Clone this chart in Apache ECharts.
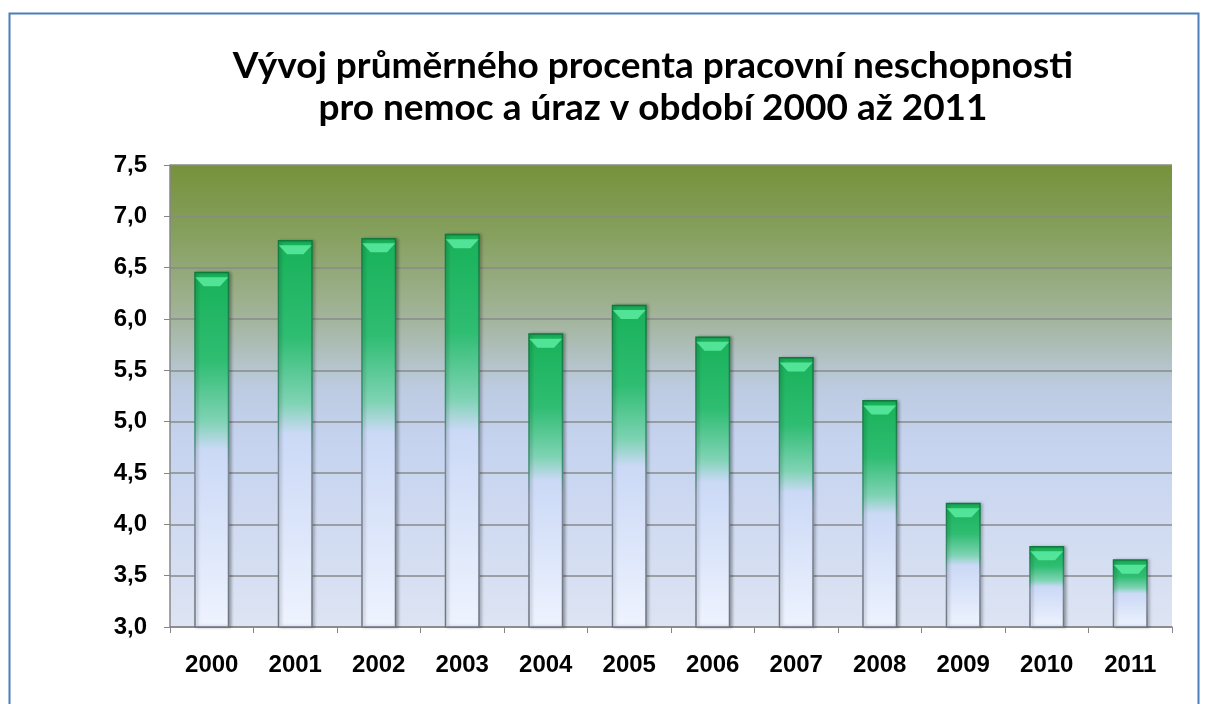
<!DOCTYPE html>
<html lang="cs">
<head>
    <meta charset="utf-8" />
    <title>ECharts</title>
    <script src="https://cdn.jsdelivr.net/npm/echarts@6/dist/echarts.min.js"></script>
    <style>
        html, body { margin: 0; padding: 0; background: #fff; }
    </style>
</head>
<body>
<div id="main" style="width: 1205px;height:704px;"></div>
<script type="text/javascript">
    // roky
    var years = ['2000', '2001', '2002', '2003', '2004', '2005', '2006', '2007', '2008', '2009', '2010', '2011'];
    // průměrné procento pracovní neschopnosti
    var values = [6.46, 6.77, 6.79, 6.83, 5.86, 6.14, 5.83, 5.63, 5.21, 4.21, 3.79, 3.66];
    var title = 'Vývoj průměrného procenta pracovní neschopnosti\npro nemoc a úraz v období 2000 až 2011';

    var myChart = echarts.init(document.getElementById('main'));

    var barFill = new echarts.graphic.LinearGradient(0, 0, 0, 1, [
        { offset: 0, color: '#17b158' },
        { offset: 0.25, color: '#2fbd72' },
        { offset: 0.42, color: '#7fd3b4' },
        { offset: 0.5, color: '#cbd9f6' },
        { offset: 1, color: '#eef3fe' }
    ]);
    var barBorder = new echarts.graphic.LinearGradient(0, 0, 0, 1, [
        { offset: 0, color: '#0d7a3c' },
        { offset: 0.45, color: '#3d8f70' },
        { offset: 0.55, color: '#7c8798' },
        { offset: 1, color: '#6f7681' }
    ]);

    var option = {
        animation: false,
        graphic: [
            {
                type: 'rect',
                shape: { x: 9.5, y: 13.5, width: 1189, height: 720 },
                style: { fill: 'none', stroke: '#4a7ebb', lineWidth: 2 },
                silent: true
            },
            {
                // nadpis (posunutý doprava jako v originále)
                type: 'text',
                x: 653,
                y: 45,
                silent: true,
                style: {
                    text: title,
                    align: 'center',
                    verticalAlign: 'top',
                    font: 'bold 37px Lato',
                    lineHeight: 42,
                    fill: '#000'
                }
            }
        ],
        grid: {
            left: 170,
            right: 33,
            top: 165,
            bottom: 77,
            show: true,
            borderWidth: 0,
            backgroundColor: new echarts.graphic.LinearGradient(0, 0, 0, 1, [
                { offset: 0, color: '#76923b' },
                { offset: 0.15, color: '#86a05e' },
                { offset: 0.33, color: '#a2b49a' },
                { offset: 0.48, color: '#bccbe0' },
                { offset: 0.6, color: '#c5d3ef' },
                { offset: 1, color: '#dde4f3' }
            ])
        },
        xAxis: {
            type: 'category',
            data: years,
            axisLine: { lineStyle: { color: '#868686', width: 1.5 } },
            axisTick: { show: true, length: 6, lineStyle: { color: '#868686' } },
            axisLabel: {
                margin: 26,
                fontFamily: 'Liberation Sans',
                fontWeight: 'bold',
                fontSize: 24,
                color: '#000'
            }
        },
        yAxis: {
            type: 'value',
            min: 3,
            max: 7.5,
            interval: 0.5,
            axisLine: { show: true, lineStyle: { color: '#868686', width: 1.5 } },
            axisTick: { show: true, length: 6, lineStyle: { color: '#868686' } },
            splitLine: { lineStyle: { color: '#8a8a8a', width: 1.5 } },
            axisLabel: {
                margin: 23,
                fontFamily: 'Liberation Sans',
                fontWeight: 'bold',
                fontSize: 24,
                color: '#000',
                formatter: function (v) { return v.toFixed(1).replace('.', ','); }
            }
        },
        series: [
            {
                type: 'bar',
                data: values,
                barWidth: 35,
                itemStyle: {
                    color: barFill,
                    borderColor: barBorder,
                    borderWidth: 1.5,
                    shadowColor: 'rgba(0,0,0,0.25)',
                    shadowBlur: 3,
                    shadowOffsetX: 2
                }
            },
            {
                // horní zkosení sloupce
                type: 'pictorialBar',
                data: values,
                symbol: 'path://M0,0 L10,0 L7.5,2 L2.5,2 Z',
                symbolSize: [33, 9],
                symbolPosition: 'end',
                symbolOffset: [0, '60%'],
                silent: true,
                z: 3,
                itemStyle: { color: '#5ff0a6', opacity: 0.8 }
            },
            {
                // spodní zkosení sloupce
                type: 'pictorialBar',
                data: values,
                symbol: 'path://M2.5,0 L7.5,0 L10,2 L0,2 Z',
                symbolSize: [33, 9],
                symbolPosition: 'start',
                symbolOffset: [0, '-60%'],
                silent: true,
                z: 3,
                itemStyle: { color: '#c3cad6', opacity: 0.8 }
            }
        ]
    };
    myChart.setOption(option);
</script>
</body>
</html>
